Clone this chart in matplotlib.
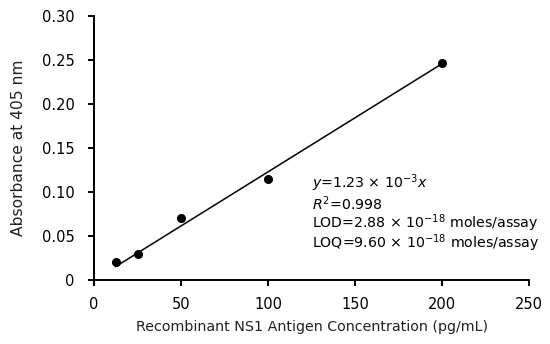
import matplotlib
matplotlib.use("Agg")
import matplotlib.pyplot as plt
import numpy as np

plt.rcParams['font.family'] = ['DejaVu Sans']
plt.rcParams['mathtext.fontset'] = 'dejavusans'
plt.rcParams['mathtext.default'] = 'regular'

conc = [12.5, 25, 50, 100, 200]
absorb = [0.021, 0.030, 0.070, 0.115, 0.247]
slope = 1.23e-3
xticks = [0, 50, 100, 150, 200, 250]
yticks = [0, 0.05, 0.10, 0.15, 0.20, 0.25, 0.30]
ytick_labels = ['0', '0.05', '0.10', '0.15', '0.20', '0.25', '0.30']
annot = [r'$\mathit{y}$=1.23 $\times$ 10$^{-3}$$\mathit{x}$',
         r'$\mathit{R}^{2}$=0.998',
         r'LOD=2.88 $\times$ 10$^{-18}$ moles/assay',
         r'LOQ=9.60 $\times$ 10$^{-18}$ moles/assay']

fig = plt.figure(figsize=(5.5, 3.44), dpi=100)
ax = fig.add_axes([0.171, 0.186, 0.791, 0.767])

fit_x = np.array([min(conc), max(conc)])
ax.plot(fit_x, slope * fit_x, color='black', lw=1.1)
ax.plot(conc, absorb, 'o', color='black', ms=5.5)

ax.set_xlim(0, 250)
ax.set_ylim(0, 0.30)
ax.set_xticks(xticks)
ax.set_yticks(yticks)
ax.set_yticklabels(ytick_labels)
ax.tick_params(direction='out', length=4, width=1.4, labelsize=10.5, color='black')
ax.tick_params(axis='x', pad=8)
ax.tick_params(axis='y', pad=10)
for s in ['top', 'right']:
    ax.spines[s].set_visible(False)
for s in ['left', 'bottom']:
    ax.spines[s].set_linewidth(1.4)

ax.set_xlabel('Recombinant NS1 Antigen Concentration (pg/mL)', fontsize=10.3,
              color='#222222', labelpad=6)
ax.set_ylabel('Absorbance at 405 nm', fontsize=11.2, color='#222222', labelpad=11)

for i, t in enumerate(annot):
    ax.text(125, 0.110 - i * 0.0228, t, fontsize=10.2, va='center', ha='left')

fig.savefig('out.png', dpi=100)
